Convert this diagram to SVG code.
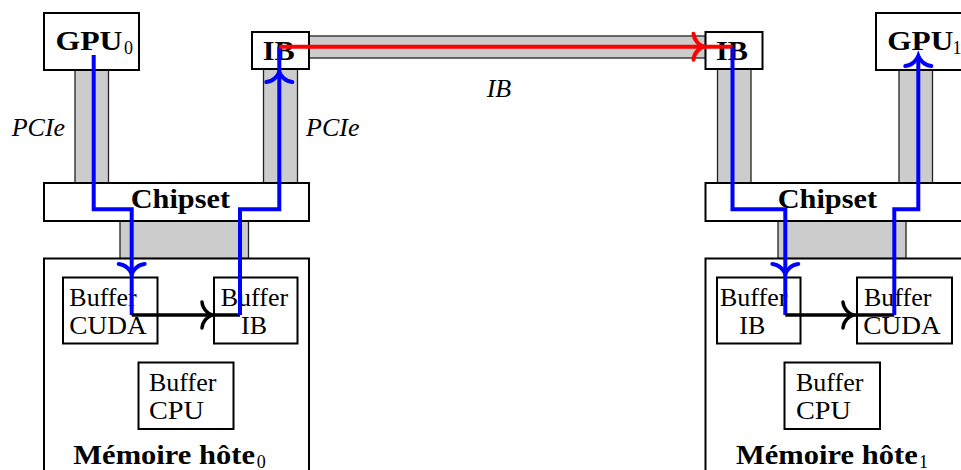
<svg xmlns="http://www.w3.org/2000/svg" width="961" height="470" viewBox="0 0 961 470">
<defs>
<style>
.box{fill:#fff;stroke:#000;stroke-width:2}
.bar{fill:#cccccc;stroke:#222;stroke-width:1.3}
.t{font-family:"Liberation Serif","Times New Roman",serif;font-size:26px;fill:#000}
.b{font-family:"Liberation Serif","Times New Roman",serif;font-size:27px;font-weight:bold;fill:#000}
.s{font-family:"Liberation Serif","Times New Roman",serif;font-size:18px;fill:#000}
.i{font-family:"Liberation Serif","Times New Roman",serif;font-size:26px;font-style:italic;fill:#000}
.blue{fill:none;stroke:#0000ff;stroke-width:4}
.red{fill:none;stroke:#ff0000;stroke-width:4}
.blk{fill:none;stroke:#000;stroke-width:3.5}
</style>
<path id="tip" d="M-10,-13 C-9.5,-6 -4,-1.5 0,0 C-4,1.5 -9.5,6 -10,13" fill="none" stroke-linecap="round"/>
</defs>

<g id="bars">
<rect class="bar" x="309" y="36" width="396.5" height="22"/>
<rect class="bar" x="75" y="70" width="33.5" height="113"/>
<rect class="bar" x="263.5" y="69" width="34" height="114"/>
<rect class="bar" x="120" y="221" width="128.5" height="37.5"/>
<rect class="bar" x="717.5" y="69" width="33.5" height="114"/>
<rect class="bar" x="899" y="70" width="33.5" height="113"/>
<rect class="bar" x="778" y="221" width="128" height="37.5"/>
</g>

<g id="gpu0">
<rect class="box" x="44" y="13" width="95" height="57"/>
<text class="b" x="55.5" y="50" textLength="67" lengthAdjust="spacingAndGlyphs">GPU</text>
<text class="s" x="124" y="53.5">0</text>
</g>
<g id="ib0">
<rect class="box" x="252" y="32" width="57" height="37"/>
<text class="b" x="262.7" y="60" textLength="32" lengthAdjust="spacingAndGlyphs">IB</text>
</g>
<g id="chipset0">
<rect class="box" x="44" y="183" width="265" height="38"/>
<text class="b" x="130.7" y="208" textLength="99.3" lengthAdjust="spacingAndGlyphs">Chipset</text>
</g>
<g id="mem0">
<rect class="box" x="44" y="258.5" width="265" height="230"/>
<text class="b" x="73.3" y="464" textLength="181.7" lengthAdjust="spacingAndGlyphs">Mémoire hôte</text>
<text class="s" x="256.7" y="467.5">0</text>
</g>
<g id="bufcuda0">
<rect class="box" x="63" y="277.5" width="94.5" height="66"/>
<text class="t" x="69.3" y="305.5">Buffer</text>
<text class="t" x="69.3" y="333.5" textLength="77.4" lengthAdjust="spacingAndGlyphs">CUDA</text>
</g>
<g id="bufib0">
<rect class="box" x="214" y="277.5" width="83.5" height="66"/>
<text class="t" x="220.7" y="305.5">Buffer</text>
<text class="t" x="241" y="333.5">IB</text>
</g>
<g id="bufcpu0">
<rect class="box" x="138.5" y="362.5" width="95" height="66.5"/>
<text class="t" x="149" y="391">Buffer</text>
<text class="t" x="149" y="418.5" textLength="55" lengthAdjust="spacingAndGlyphs">CPU</text>
</g>

<g id="ib1">
<rect class="box" x="705.5" y="32" width="57" height="37"/>
<text class="b" x="716" y="60" textLength="32" lengthAdjust="spacingAndGlyphs">IB</text>
</g>
<g id="gpu1">
<rect class="box" x="876" y="13" width="95" height="57"/>
<text class="b" x="887.3" y="50" textLength="66" lengthAdjust="spacingAndGlyphs">GPU</text>
<text class="s" x="952.5" y="53.5">1</text>
</g>
<g id="chipset1">
<rect class="box" x="705.5" y="183" width="265" height="38"/>
<text class="b" x="777.7" y="208" textLength="99.3" lengthAdjust="spacingAndGlyphs">Chipset</text>
</g>
<g id="mem1">
<rect class="box" x="705.5" y="258.5" width="265" height="230"/>
<text class="b" x="736" y="464" textLength="181.7" lengthAdjust="spacingAndGlyphs">Mémoire hôte</text>
<text class="s" x="919" y="467.5">1</text>
</g>
<g id="bufib1">
<rect class="box" x="717" y="277.5" width="83.5" height="66"/>
<text class="t" x="720" y="305.5">Buffer</text>
<text class="t" x="739.3" y="333.5">IB</text>
</g>
<g id="bufcuda1">
<rect class="box" x="857" y="277.5" width="95" height="66"/>
<text class="t" x="864" y="305.5">Buffer</text>
<text class="t" x="863.3" y="333.5" textLength="77.4" lengthAdjust="spacingAndGlyphs">CUDA</text>
</g>
<g id="bufcpu1">
<rect class="box" x="784.5" y="362.5" width="95.5" height="66.5"/>
<text class="t" x="796" y="391">Buffer</text>
<text class="t" x="796" y="418.5" textLength="55" lengthAdjust="spacingAndGlyphs">CPU</text>
</g>

<g id="labels">
<text class="i" x="11.7" y="136">PCIe</text>
<text class="i" x="306" y="136">PCIe</text>
<text class="i" x="486.7" y="97">IB</text>
</g>

<g id="connectors">
<path class="blue" d="M93.7,55 V209.3 H131.7 V315"/>
<use href="#tip" stroke="#0000ff" stroke-width="4" transform="translate(131.7,274) rotate(90)"/>
<path class="blk" d="M131.7,315 H240"/>
<use href="#tip" stroke="#000" stroke-width="3.5" transform="translate(212,315)"/>
<path class="blue" d="M240,315 V209.3 H279.3 V46.7"/>
<use href="#tip" stroke="#0000ff" stroke-width="4" transform="translate(279.3,72) rotate(-90)"/>
<path class="red" d="M279.3,46.7 H732.7"/>
<use href="#tip" stroke="#ff0000" stroke-width="4" transform="translate(703.5,46.7)"/>
<path class="blue" d="M732.5,46.7 V209.3 H785.3 V315"/>
<use href="#tip" stroke="#0000ff" stroke-width="4" transform="translate(785.3,274) rotate(90)"/>
<path class="blk" d="M785.3,315 H894.3"/>
<use href="#tip" stroke="#000" stroke-width="3.5" transform="translate(853,315)"/>
<path class="blue" d="M894.3,315 V209.3 H918.3 V56"/>
<use href="#tip" stroke="#0000ff" stroke-width="4" transform="translate(918.3,56) rotate(-90)"/>
</g>
</svg>
